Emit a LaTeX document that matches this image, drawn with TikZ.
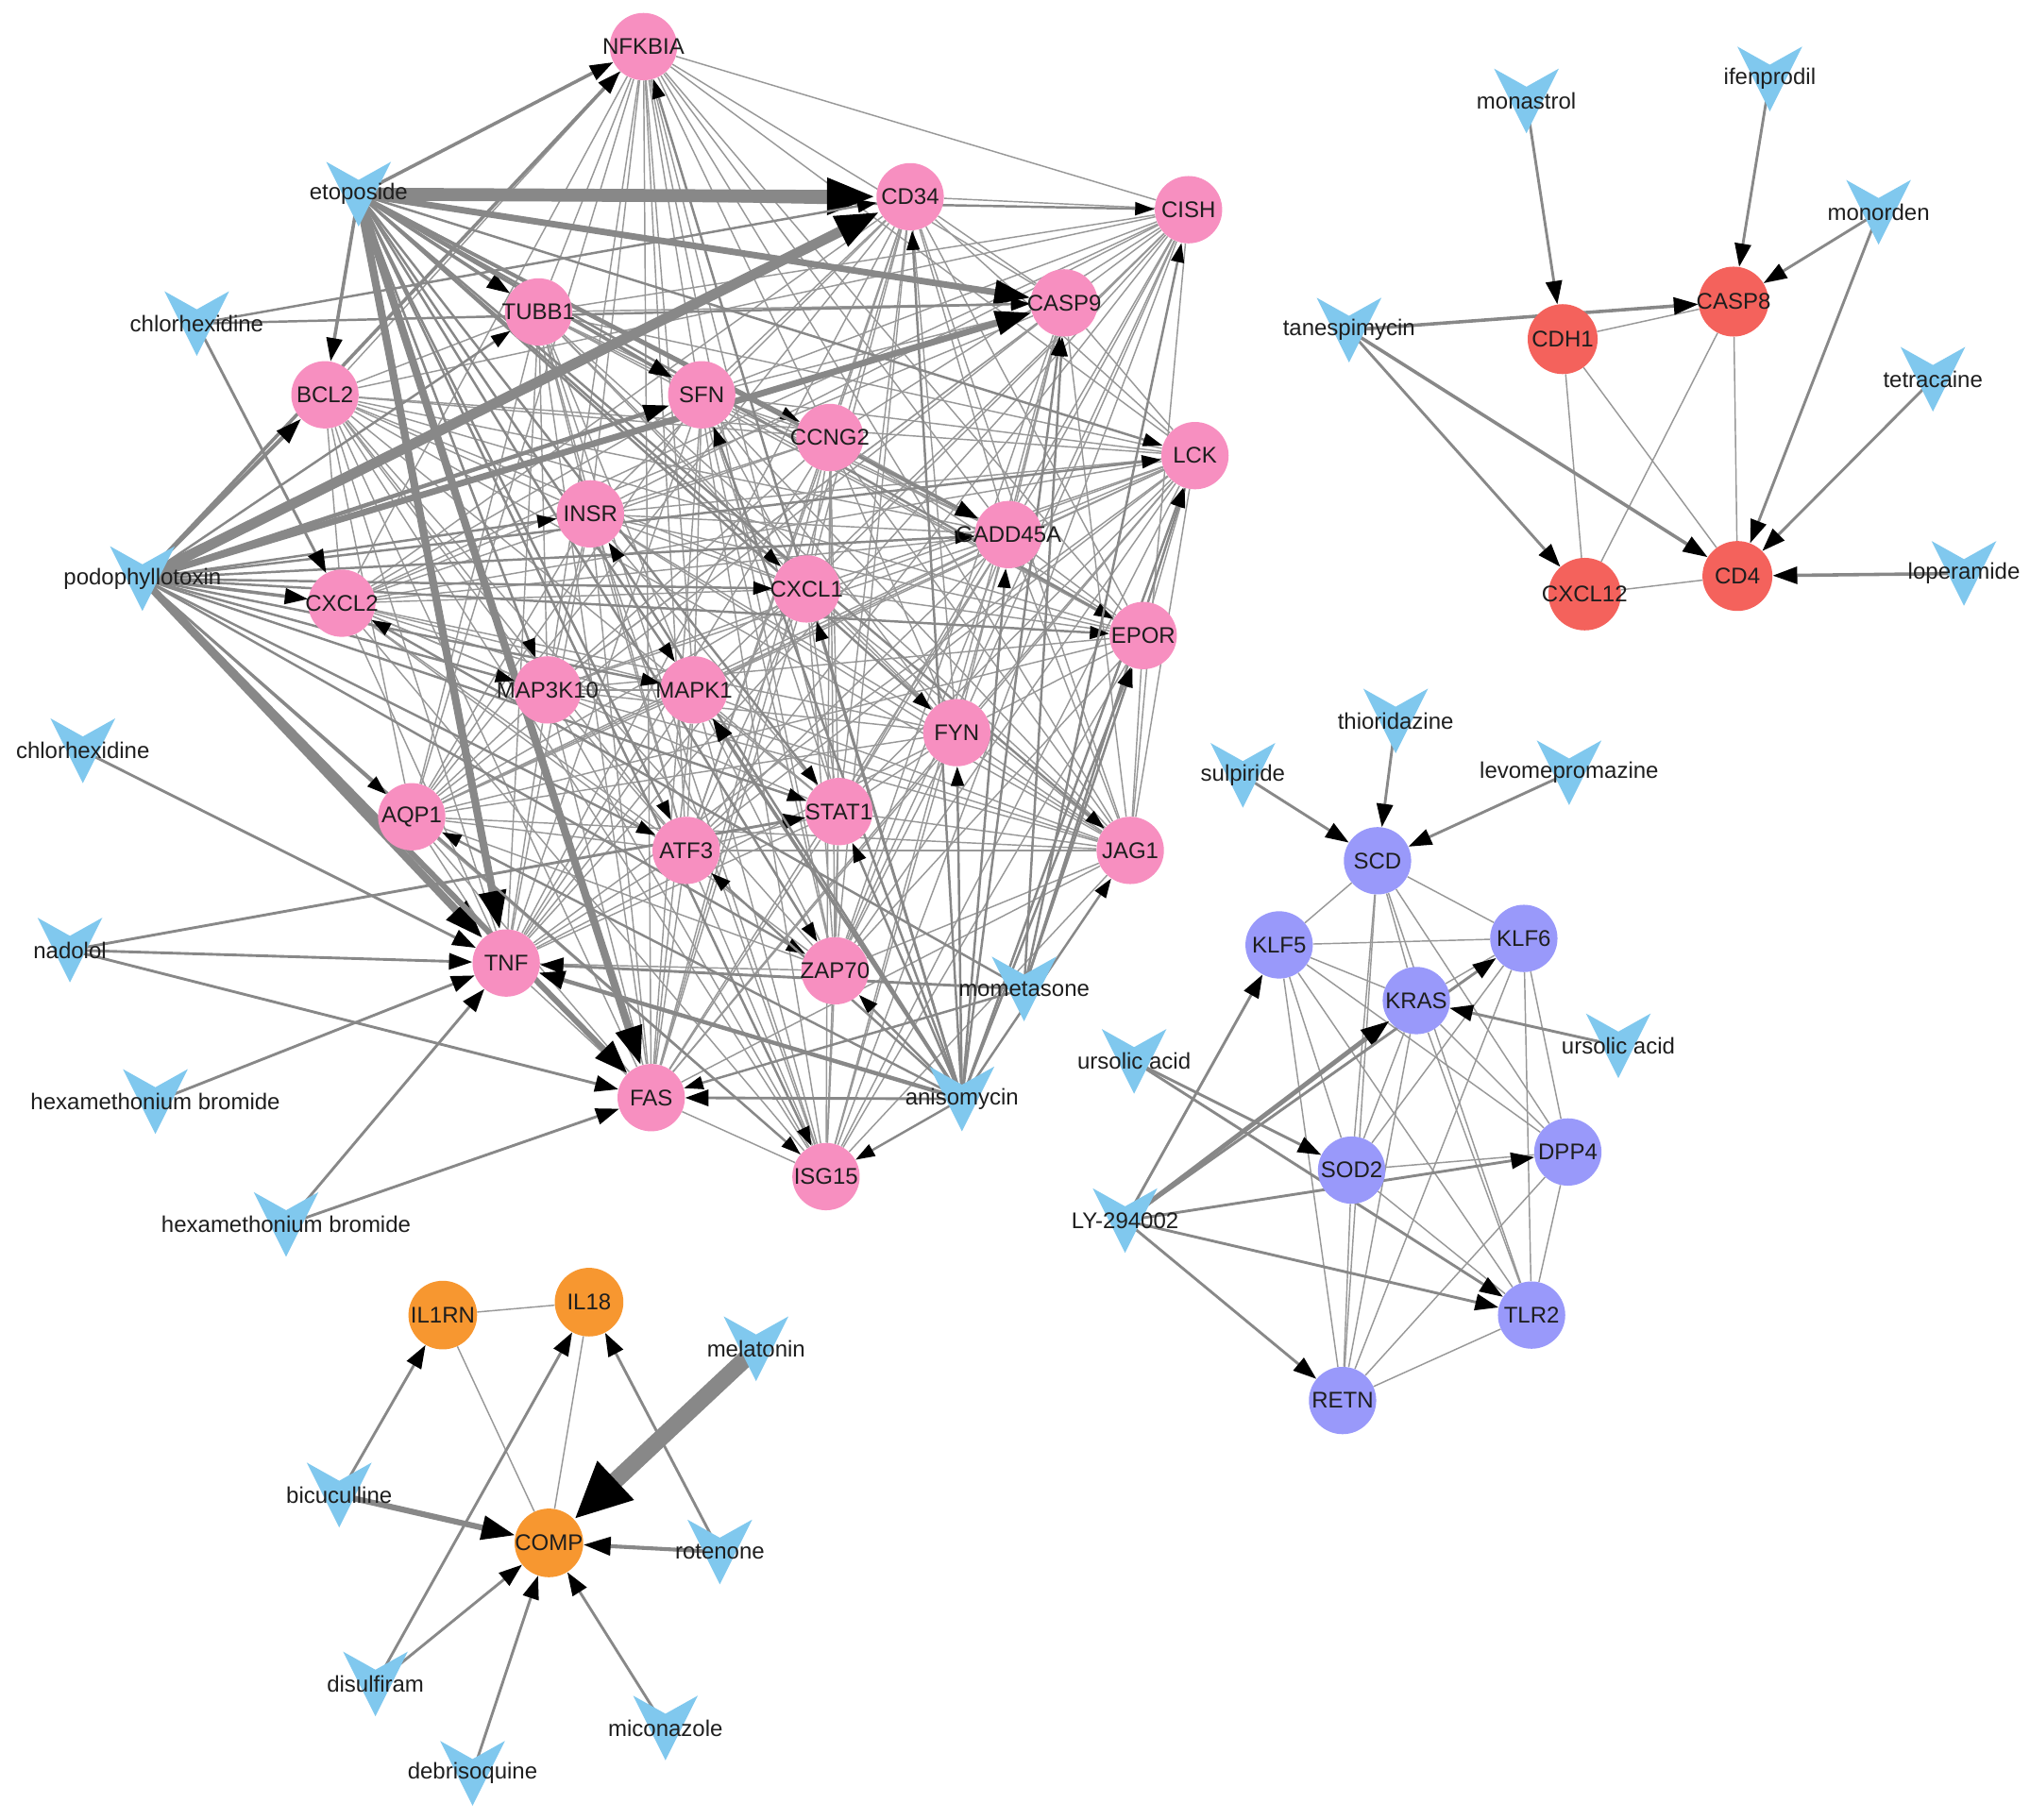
\documentclass[tikz,border=0pt]{standalone}
\usepackage{fontspec}
\setmainfont{Liberation Sans}
\usetikzlibrary{arrows.meta}
\pgfdeclarelayer{bg}
\pgfdeclarelayer{edges}
\pgfsetlayers{bg,edges,main}
\definecolor{pinkc}{RGB}{247,143,192}
\definecolor{redc}{RGB}{244,98,92}
\definecolor{orangec}{RGB}{247,151,48}
\definecolor{purplec}{RGB}{153,153,250}
\definecolor{drugc}{RGB}{128,200,238}
\definecolor{edgec}{RGB}{136,136,136}
\definecolor{thinc}{RGB}{152,152,152}
\definecolor{txtc}{RGB}{30,30,30}
\newcommand\gl[1]{\makebox[0pt]{#1}}
\newcommand\drugV[4]{%
  \coordinate (#1) at (#2,#3);
  \fill[drugc] ({#2-25},{#3-25}) -- ({#2},{#3-11}) -- ({#2+25},{#3-25}) -- ({#2},{#3+25}) -- cycle;
  \node[drugtxt] (#1l) at (#2,#3) {#4};
}
\begin{document}
\begin{tikzpicture}[x=1pt,y=-1pt,
  gene/.style={circle,minimum size=52pt,inner sep=0pt,text=txtc,font=\fontsize{17.5}{20}\selectfont},
  pk/.style={gene,fill=pinkc},
  rd/.style={gene,fill=redc,minimum size=54pt},
  pu/.style={gene,fill=purplec},
  og/.style={gene,fill=orangec,minimum size=53pt},
  drugtxt/.style={inner sep=0pt,text=txtc,font=\fontsize{17.5}{20}\selectfont},
  glink/.style={draw=thinc,line width=1.05pt},
  arr/.style n args={3}{draw=edgec,line width=#1pt,-{Triangle[length=#2pt,width=#3pt,color=black]}},
  ta/.style={arr={1.8}{15}{10}},
  ma/.style={arr={2.6}{18}{12}},
  ca/.style={arr={2.1}{18}{12.5}}
]
\begin{pgfonlayer}{bg}
\fill[white] (0,0) rectangle (1568,1406);
\end{pgfonlayer}
\useasboundingbox (0,0) rectangle (1568,1406);

% ---- pink genes
\node[pk] (nfkbia) at (497,36) {\gl{NFKBIA}};
\node[pk] (cd34) at (703,152) {\gl{CD34}};
\node[pk] (cish) at (918,162) {\gl{CISH}};
\node[pk] (casp9) at (822,234) {\gl{CASP9}};
\node[pk] (tubb1) at (416,241) {\gl{TUBB1}};
\node[pk] (bcl2) at (251,305) {\gl{BCL2}};
\node[pk] (sfn) at (542,305) {\gl{SFN}};
\node[pk] (ccng2) at (641,338) {\gl{CCNG2}};
\node[pk] (lck) at (923,352) {\gl{LCK}};
\node[pk] (insr) at (456,397) {\gl{INSR}};
\node[pk] (gadd) at (779,413) {\gl{GADD45A}};
\node[pk] (cxcl1) at (623,455) {\gl{CXCL1}};
\node[pk] (cxcl2) at (264,466) {\gl{CXCL2}};
\node[pk] (epor) at (883,491) {\gl{EPOR}};
\node[pk] (map3k) at (423,533) {\gl{MAP3K10}};
\node[pk] (mapk1) at (536,533) {\gl{MAPK1}};
\node[pk] (fyn) at (739,566) {\gl{FYN}};
\node[pk] (stat1) at (648,627) {\gl{STAT1}};
\node[pk] (aqp1) at (318,631) {\gl{AQP1}};
\node[pk] (atf3) at (530,657) {\gl{ATF3}};
\node[pk] (jag1) at (873,657) {\gl{JAG1}};
\node[pk] (tnf) at (391,744) {\gl{TNF}};
\node[pk] (zap70) at (645,750) {\gl{ZAP70}};
\node[pk] (fas) at (503,848) {\gl{FAS}};
\node[pk] (isg15) at (638,909) {\gl{ISG15}};

% ---- red genes
\node[rd] (cdh1) at (1207,262) {\gl{CDH1}};
\node[rd] (casp8) at (1339,233) {\gl{CASP8}};
\node[rd,minimum size=56pt] (cxcl12) at (1224,459) {\gl{CXCL12}};
\node[rd] (cd4) at (1342,445) {\gl{CD4}};

% ---- purple genes
\node[pu] (scd) at (1064,665) {\gl{SCD}};
\node[pu] (klf5) at (988,730) {\gl{KLF5}};
\node[pu] (klf6) at (1177,725) {\gl{KLF6}};
\node[pu] (kras) at (1094,773) {\gl{KRAS}};
\node[pu] (dpp4) at (1211,890) {\gl{DPP4}};
\node[pu] (sod2) at (1044,904) {\gl{SOD2}};
\node[pu] (tlr2) at (1183,1016) {\gl{TLR2}};
\node[pu] (retn) at (1037,1082) {\gl{RETN}};

% ---- orange genes
\node[og] (il1rn) at (342,1016) {\gl{IL1RN}};
\node[og] (il18) at (455,1006) {\gl{IL18}};
\node[og] (comp) at (424,1192) {\gl{COMP}};

% ---- drugs
\drugV{etop}{277}{150}{etoposide}
\drugV{chla}{152}{250}{chlorhexidine}
\drugV{podo}{110}{447}{podophyllotoxin}
\drugV{chlb}{64}{580}{chlorhexidine}
\drugV{nad}{54}{734}{nadolol}
\drugV{hexa}{120}{851}{hexamethonium bromide}
\drugV{hexb}{221}{946}{hexamethonium bromide}
\drugV{mom}{791}{764}{mometasone}
\drugV{anis}{743}{849}{anisomycin}
\drugV{monas}{1179}{78}{monastrol}
\drugV{ifen}{1367}{61}{ifenprodil}
\drugV{monor}{1451}{164}{monorden}
\drugV{tane}{1042}{255}{tanespimycin}
\drugV{tetra}{1493}{293}{tetracaine}
\drugV{lop}{1517}{443}{loperamide}
\drugV{thio}{1078}{557}{thioridazine}
\drugV{sulp}{960}{599}{sulpiride}
\drugV{levo}{1212}{597}{levomepromazine}
\drugV{ursa}{876}{820}{ursolic acid}
\drugV{ursb}{1250}{808}{ursolic acid}
\drugV{ly}{869}{943}{LY-294002}
\drugV{mel}{584}{1042}{melatonin}
\drugV{bic}{262}{1155}{bicuculline}
\drugV{rot}{556}{1199}{rotenone}
\drugV{dis}{290}{1301}{disulfiram}
\drugV{deb}{365}{1370}{debrisoquine}
\drugV{mic}{514}{1335}{miconazole}

\begin{pgfonlayer}{edges}
% pink gene-gene links
\def\genelist{nfkbia,cd34,cish,casp9,tubb1,bcl2,sfn,ccng2,lck,insr,gadd,cxcl1,cxcl2,epor,map3k,mapk1,fyn,stat1,aqp1,atf3,jag1,tnf,zap70,fas,isg15}
\foreach \a [count=\i] in \genelist {
  \foreach \b [count=\j] in \genelist {
    \ifnum\j>\i
      \pgfmathtruncatemacro\h{mod(\i*7+\j*13+\i*\j*3,10)}
      \ifnum\h<8 \draw[glink] (\a) -- (\b);\fi
    \fi
  }
}
% purple gene-gene links
\def\pulist{scd,klf5,klf6,kras,dpp4,sod2,tlr2,retn}
\foreach \a [count=\i] in \pulist {
  \foreach \b [count=\j] in \pulist {
    \ifnum\j>\i \draw[glink] (\a) -- (\b);\fi
  }
}
% red and orange gene-gene links
\draw[glink] (cdh1) -- (casp8);
\draw[glink] (cdh1) -- (cxcl12);
\draw[glink] (cdh1) -- (cd4);
\draw[glink] (casp8) -- (cxcl12);
\draw[glink] (casp8) -- (cd4);
\draw[glink] (cxcl12) -- (cd4);
\draw[glink] (il1rn) -- (il18);
\draw[glink] (il1rn) -- (comp);
\draw[glink] (il18) -- (comp);

% etoposide
\foreach \g in {cish,ccng2,map3k,mapk1,cxcl1,atf3,stat1,zap70,isg15,fyn,lck,epor,jag1} \draw[ta] (etop) -- (\g);
\foreach \g in {nfkbia,bcl2,tubb1,sfn,gadd} \draw[ma] (etop) -- (\g);
\draw[arr={10}{38}{26}] (etop) -- (cd34);
\draw[arr={5}{28}{18}] (etop) -- (casp9);
\draw[arr={6}{30}{20}] (etop) -- (tnf);
\draw[arr={6}{30}{20}] (etop) -- (fas);
% podophyllotoxin
\foreach \g in {tubb1,lck,gadd,map3k,mapk1,stat1,atf3,zap70,isg15,aqp1,cxcl1,epor,insr} \draw[ta] (podo) -- (\g);
\foreach \g in {nfkbia,cxcl2} \draw[ma] (podo) -- (\g);
\draw[arr={3}{20}{13}] (podo) -- (bcl2);
\draw[arr={3.2}{20}{13}] (podo) -- (sfn);
\draw[arr={8}{34}{24}] (podo) -- (cd34);
\draw[arr={5}{28}{18}] (podo) -- (casp9);
\draw[arr={6}{30}{20}] (podo) -- (tnf);
\draw[arr={4.5}{26}{18}] (podo) -- (fas);
% chlorhexidine (top)
\foreach \g in {cd34,casp9} \draw[ta] (chla) -- (\g);
\draw[ca] (chla) -- (cxcl2);
% left drugs
\draw[ca] (chlb) -- (tnf);
\draw[ca] (nad) -- (tnf);
\draw[ca] (nad) -- (fas);
\draw[ca] (nad) -- (stat1);
\draw[ca] (hexa) -- (tnf);
\draw[ca] (hexb) -- (tnf);
\draw[ca] (hexb) -- (fas);
% mometasone
\foreach \g in {lck,casp9,epor,cxcl2,cish,fas} \draw[ta] (mom) -- (\g);
\draw[ca] (mom) -- (tnf);
% anisomycin
\foreach \g in {nfkbia,cd34,casp9,sfn,lck,gadd,fyn,stat1,zap70,aqp1,atf3,isg15,epor,jag1,cxcl1,insr} \draw[ta] (anis) -- (\g);
\draw[ma] (anis) -- (mapk1);
\draw[ca] (anis) -- (fas);
\draw[arr={3.2}{20}{14}] (anis) -- (tnf);

% red cluster
\draw[ca] (monas) -- (cdh1);
\draw[ca] (ifen) -- (casp8);
\draw[ca] (monor) -- (casp8);
\draw[ca] (monor) -- (cd4);
\draw[arr={2.6}{19}{13}] (tane) -- (casp8);
\draw[ca] (tane) -- (cxcl12);
\draw[arr={2.6}{19}{13}] (tane) -- (cd4);
\draw[ca] (tetra) -- (cd4);
\draw[arr={2.6}{19}{13}] (lop) -- (cd4);

% purple cluster
\draw[ca] (thio) -- (scd);
\draw[ca] (sulp) -- (scd);
\draw[ca] (levo) -- (scd);
\draw[ca] (ursa) -- (sod2);
\draw[ca] (ursa) -- (tlr2);
\draw[ca] (ursb) -- (kras);
\draw[ca] (ly) -- (klf5);
\draw[arr={3.6}{22}{15}] (ly) -- (kras);
\draw[ca] (ly) -- (klf6);
\draw[ca] (ly) -- (dpp4);
\draw[ca] (ly) -- (tlr2);
\draw[ca] (ly) -- (retn);

% orange cluster
\draw[arr={13}{44}{38}] (mel) -- (comp);
\draw[ca] (bic) -- (il1rn);
\draw[arr={4.5}{26}{18}] (bic) -- (comp);
\draw[arr={3}{21}{14}] (rot) -- (comp);
\draw[ca] (rot) -- (il18);
\draw[ca] (dis) -- (il18);
\draw[ca] (dis) -- (comp);
\draw[ca] (deb) -- (comp);
\draw[ca] (mic) -- (comp);
\end{pgfonlayer}
\end{tikzpicture}
\end{document}
